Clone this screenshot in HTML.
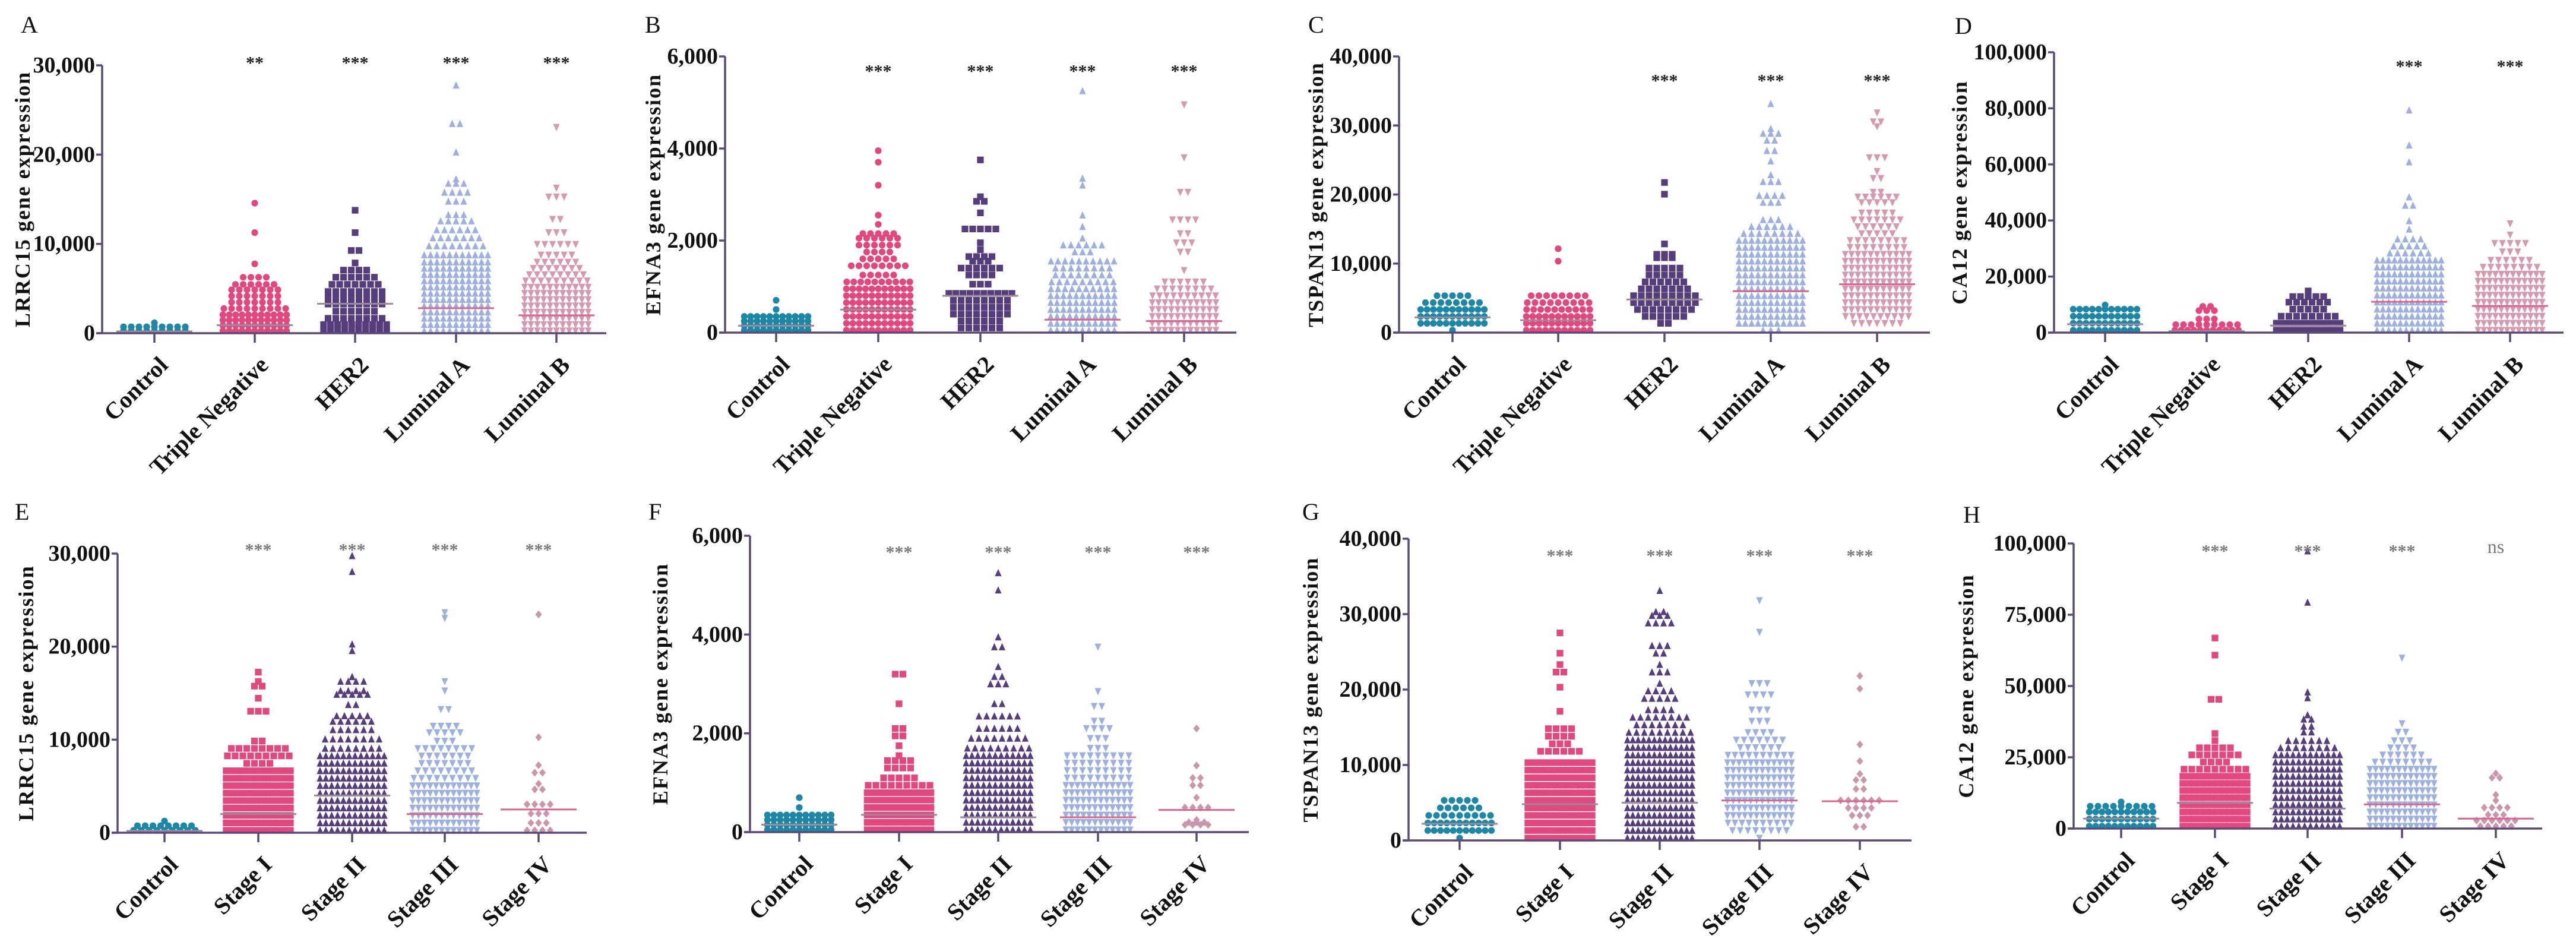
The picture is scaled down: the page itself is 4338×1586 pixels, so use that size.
<!DOCTYPE html>
<html><head><meta charset="utf-8"><style>
html,body{margin:0;padding:0;background:#fff;}
svg{display:block;}
text{font-family:"Liberation Serif",serif;}
</style></head><body>
<svg id="fig" xmlns="http://www.w3.org/2000/svg" width="4338" height="1586" viewBox="0 0 4338 1586"></svg>
<script>
// ---------- DATA ----------
const subtypeCats = ["Control","Triple Negative","HER2","Luminal A","Luminal B"];
const stageCats = ["Control","Stage I","Stage II","Stage III","Stage IV"];

const A_ticks = [0,10000,20000,30000];
const A_tickLabels = ["0","10,000","20,000","30,000"];
const A_stars = ["","**","***","***","***"];
const A_medians = [200,900,3300,2800,2000];
const A_g0 = [[0,9],[450,9],[900,1]];
const A_g1 = [[0,11],[600,11],[1200,11],[1800,11],[2500,9],[3200,7],[3900,7],[4600,7],[5200,6],[6000,4],[7500,1],[11000,1],[14300,1]];
const A_g2 = [[0,10],[700,10],[1400,8],[2200,6],[3000,8],[3700,8],[4400,8],[5200,7],[6000,6],[6800,4],[7600,1],[9000,2],[11000,1],[13500,1]];
const A_g3 = [[0,11],[700,11],[1400,11],[2100,11],[2800,11],[3500,11],[4200,11],[4900,11],[5600,11],[6300,11],[7000,11],[7700,11],[8500,11],[9500,8],[10400,7],[11300,6],[12300,5],[13000,3],[14500,3],[15500,4],[16500,3],[17000,1],[20000,1],[23200,2],[27500,1]];
const A_g4 = [[0,11],[700,11],[1400,11],[2100,11],[2800,11],[3500,11],[4200,11],[4900,11],[5600,9],[6300,8],[7000,7],[7700,6],[8500,5],[9700,6],[11000,3],[12500,2],[15000,3],[16000,1],[22800,1]];

const B_ticks = [0,2000,4000,6000];
const B_tickLabels = ["0","2,000","4,000","6,000"];
const B_stars = ["","***","***","***","***"];
const B_medians = [150,500,800,280,250];
const B_g0 = [[0,11],[100,11],[200,11],[300,11],[450,1],[650,1]];
const B_g1 = [[0,11],[150,11],[300,11],[450,11],[600,11],[750,11],[900,11],[1050,10],[1200,5],[1400,8],[1550,5],[1700,4],[1850,6],[2000,6],[2100,5],[2300,1],[2500,1],[3150,1],[3650,1],[3900,1]];
const B_g2 = [[50,6],[200,6],[350,8],[500,8],[650,8],[800,10],[1000,3],[1200,4],[1350,6],[1500,3],[1600,4],[1750,1],[1900,1],[2200,5],[2550,1],[2800,2],[2900,1],[3700,1]];
const B_g3 = [[0,11],[150,11],[300,11],[450,11],[600,11],[750,11],[900,10],[1050,9],[1200,8],[1350,8],[1500,10],[1700,3],[1850,6],[2000,1],[2250,1],[2500,1],[3150,1],[3300,1],[5200,1]];
const B_g4 = [[0,11],[150,11],[300,11],[450,11],[600,11],[750,10],[900,8],[1050,6],[1300,1],[1700,2],[1900,3],[2100,2],[2400,4],[3000,2],[3750,1],[4900,1]];

const C_ticks = [0,10000,20000,30000,40000];
const C_tickLabels = ["0","10,000","20,000","30,000","40,000"];
const C_stars = ["","","***","***","***"];
const C_medians = [2200,1800,4800,6000,7000];
const C_g0 = [[0,1],[1000,11],[2000,11],[3000,11],[4000,8],[5000,5]];
const C_g1 = [[0,11],[1000,11],[2000,11],[3000,10],[4000,9],[5000,8],[10000,1],[11800,1]];
const C_g2 = [[1000,2],[2000,6],[3000,8],[4000,9],[5000,9],[6000,7],[7000,6],[8000,5],[9000,5],[10500,3],[11000,3],[12500,1],[19700,1],[21400,1]];
const C_g3 = [[0,3],[1000,11],[2000,11],[3000,11],[4000,11],[5000,11],[6000,11],[7000,11],[8000,11],[9000,11],[10000,11],[11000,11],[12000,11],[13000,11],[14000,8],[15000,6],[16000,3],[18500,3],[19500,4],[21500,3],[22500,1],[24500,1],[26000,2],[27500,2],[28500,3],[29200,1],[32800,1]];
const C_g4 = [[1000,7],[2000,10],[3000,11],[4000,11],[5000,11],[6000,11],[7000,11],[8000,11],[9000,11],[10000,11],[11000,11],[12000,8],[13000,8],[14000,5],[15000,6],[16000,7],[17000,5],[18500,5],[19300,6],[20000,2],[22000,2],[23000,1],[25000,3],[29500,1],[30200,2],[31500,1]];

const D_ticks = [0,20000,40000,60000,80000,100000];
const D_tickLabels = ["0","20,000","40,000","60,000","80,000","100,000"];
const D_stars = ["","","","***","***"];
const D_medians = [3000,500,2500,11000,9500];
const D_g0 = [[0,11],[2500,11],[5000,11],[7500,11],[9000,1]];
const D_g1 = [[0,11],[2000,9],[4000,3],[7000,3],[8500,2]];
const D_g2 = [[0,11],[2500,11],[5000,8],[7500,5],[10000,6],[12000,5],[14000,1]];
const D_g3 = [[0,12],[2500,12],[5000,12],[7500,12],[10000,12],[12500,12],[15000,12],[17500,12],[20000,12],[22500,12],[25000,12],[27500,6],[30000,5],[32500,4],[36000,1],[39000,1],[44500,2],[47500,1],[60000,1],[66000,1],[78500,1]];
const D_g4 = [[0,12],[2500,12],[5000,12],[7500,12],[10000,12],[12500,12],[15000,12],[17500,12],[20000,12],[22500,8],[25000,6],[28000,3],[31000,5],[34000,1],[38000,1]];

const E_ticks = [0,10000,20000,30000];
const E_tickLabels = ["0","10,000","20,000","30,000"];
const E_stars = ["","***","***","***","***"];
const E_medians = [200,2000,4000,2000,2500];
const E_g0 = [[0,9],[500,8],[1000,1]];
const E_g1 = [[0,12],[800,12],[1600,12],[2400,12],[3200,12],[4000,12],[4800,12],[5600,12],[6400,12],[7200,4],[8000,9],[8800,8],[9600,2],[12800,3],[14200,1],[15500,2],[16000,1],[17000,1]];
const E_g2 = [[0,12],[800,12],[1600,12],[2400,12],[3200,12],[4000,12],[4800,12],[5600,12],[6400,12],[7200,12],[8000,12],[8800,8],[9800,8],[10800,6],[11700,6],[12300,5],[13500,2],[14600,5],[15000,4],[16000,4],[16500,1],[19300,1],[20000,1],[27800,1],[29500,1]];
const E_g3 = [[0,12],[800,12],[1600,12],[2400,12],[3200,12],[4000,12],[4800,12],[5600,9],[6400,8],[7200,7],[8000,7],[8800,8],[9600,3],[10500,5],[11200,4],[13000,2],[15000,1],[16000,1],[22800,1],[23400,1]];
const E_g4 = [[0,4],[800,3],[1800,3],[2800,4],[4400,2],[5000,1],[6200,2],[7000,1],[10000,1],[23200,1]];

const F_ticks = [0,2000,4000,6000];
const F_tickLabels = ["0","2,000","4,000","6,000"];
const F_stars = ["","***","***","***","***"];
const F_medians = [150,350,300,300,450];
const F_g0 = [[0,11],[100,11],[200,11],[300,11],[450,1],[650,1]];
const F_g1 = [[0,11],[150,11],[300,11],[450,11],[600,11],[750,11],[900,9],[1050,5],[1250,4],[1400,4],[1500,1],[1700,1],[1900,2],[2050,2],[2550,1],[3150,2]];
const F_g2 = [[0,12],[150,12],[300,12],[450,12],[600,12],[750,12],[900,12],[1050,12],[1200,12],[1350,12],[1500,12],[1650,9],[1850,8],[2050,6],[2300,6],[2550,2],[2950,3],[3100,2],[3300,1],[3700,2],[3900,1],[4850,1],[5200,1]];
const F_g3 = [[0,12],[150,12],[300,12],[450,12],[600,12],[750,12],[900,12],[1050,9],[1200,9],[1350,9],[1500,9],[1650,3],[1850,3],[2050,4],[2200,2],[2500,2],[2800,1],[3700,1]];
const F_g4 = [[100,4],[150,3],[200,1],[450,4],[650,1],[900,2],[1050,2],[1300,1],[2050,1]];

const G_ticks = [0,10000,20000,30000,40000];
const G_tickLabels = ["0","10,000","20,000","30,000","40,000"];
const G_stars = ["","***","***","***","***"];
const G_medians = [2200,4800,5000,5300,5200];
const G_g0 = [[0,1],[1000,11],[2000,11],[3000,9],[4000,6],[5000,5]];
const G_g1 = [[0,12],[1000,12],[2000,12],[3000,12],[4000,12],[5000,12],[6000,12],[7000,12],[8000,12],[9000,12],[10000,12],[11500,6],[12500,3],[13500,4],[14500,4],[16800,1],[20000,1],[22000,2],[23000,1],[24500,1],[27200,1]];
const G_g2 = [[0,13],[1000,13],[2000,13],[3000,13],[4000,13],[5000,13],[6000,13],[7000,13],[8000,13],[9000,13],[10000,13],[11000,13],[12000,13],[13000,13],[14000,9],[15000,7],[16000,8],[17000,4],[18500,5],[19500,4],[20500,1],[22000,3],[23000,1],[24500,2],[25500,3],[28500,4],[29500,3],[30000,2],[32800,1]];
const G_g3 = [[0,1],[1000,8],[2000,10],[3000,12],[4000,12],[5000,12],[6000,12],[7000,12],[8000,12],[9000,12],[10000,12],[11000,10],[12000,6],[13000,7],[14000,4],[15500,3],[17000,3],[19000,4],[20500,3],[27300,1],[31500,1]];
const G_g4 = [[1500,2],[3000,3],[4000,4],[5000,6],[6500,2],[7700,2],[8500,1],[10200,1],[12400,1],[19800,1],[21500,1]];

const H_ticks = [0,25000,50000,75000,100000];
const H_tickLabels = ["0","25,000","50,000","75,000","100,000"];
const H_stars = ["","***","***","***","ns"];
const H_medians = [3500,9000,7000,8500,3500];
const H_g0 = [[0,11],[2500,11],[5000,11],[7000,9],[8500,1]];
const H_g1 = [[0,12],[2500,12],[5000,12],[7500,12],[10000,12],[12500,12],[15000,12],[17500,12],[20000,9],[22500,4],[25000,7],[27500,5],[30000,1],[32500,1],[44500,2],[60000,1],[66000,1]];
const H_g2 = [[0,12],[2500,12],[5000,12],[7500,12],[10000,12],[12500,12],[15000,12],[17500,12],[20000,12],[22500,12],[25000,12],[27500,8],[30000,6],[33000,2],[35000,2],[37500,2],[39000,1],[45000,1],[47000,1],[78500,1],[96500,1]];
const H_g3 = [[0,12],[2500,12],[5000,12],[7500,12],[10000,12],[12500,12],[15000,12],[17500,12],[20000,12],[22500,8],[25000,6],[27500,4],[30000,3],[33000,2],[36000,1],[59000,1]];
const H_g4 = [[0,5],[2000,6],[4000,3],[6500,4],[9000,1],[11000,1],[17000,2],[18500,1]];

// ---------- LAYOUT ----------
const NS = "http://www.w3.org/2000/svg";
const svg = document.getElementById("fig");
const AX = "#5b4a78";
const topColors = ["#1f87a6","#e0487e","#563d7c","#9eb0dd","#d49ab0"];
const botColors = ["#1f87a6","#e0487e","#563d7c","#9eb0dd","#c996aa"];
const topShapes = ["circle","circle","square","tri","tridown"];
const botShapes = ["circle","square","tri","tridown","diamond"];

const panels = [
 {id:"a",letter:"A",lx:35,ly:55,title:"LRRC15 gene expression",tx:38,ax:172,y0:561,yTop:110,max:30000,xEnd:1021,cx:[260,429,598,768,937],starY:98,top:true,ticks:A_ticks,tl:A_tickLabels,stars:A_stars,med:A_medians,groups:[A_g0,A_g1,A_g2,A_g3,A_g4]},
 {id:"b",letter:"B",lx:1086,ly:55,title:"EFNA3 gene expression",tx:1100,ax:1221,y0:560,yTop:95,max:6000,xEnd:2082,cx:[1307,1479,1651,1823,1994],starY:112,top:true,ticks:B_ticks,tl:B_tickLabels,stars:B_stars,med:B_medians,groups:[B_g0,B_g1,B_g2,B_g3,B_g4]},
 {id:"c",letter:"C",lx:2203,ly:55,title:"TSPAN13 gene expression",tx:2216,ax:2356,y0:560,yTop:95,max:40000,xEnd:3250,cx:[2446,2624,2803,2982,3161],starY:128,top:true,ticks:C_ticks,tl:C_tickLabels,stars:C_stars,med:C_medians,groups:[C_g0,C_g1,C_g2,C_g3,C_g4]},
 {id:"d",letter:"D",lx:3292,ly:57,title:"CA12 gene expression",tx:3300,ax:3459,y0:560,yTop:88,max:100000,xEnd:4317,cx:[3545,3716,3887,4057,4227],starY:104,top:true,ticks:D_ticks,tl:D_tickLabels,stars:D_stars,med:D_medians,groups:[D_g0,D_g1,D_g2,D_g3,D_g4]},
 {id:"e",letter:"E",lx:25,ly:875,title:"LRRC15 gene expression",tx:44,ax:198,y0:1402,yTop:932,max:30000,xEnd:988,cx:[277,435,593,749,907],starY:918,top:false,ticks:E_ticks,tl:E_tickLabels,stars:E_stars,med:E_medians,groups:[E_g0,E_g1,E_g2,E_g3,E_g4]},
 {id:"f",letter:"F",lx:1092,ly:875,title:"EFNA3 gene expression",tx:1112,ax:1263,y0:1401,yTop:902,max:6000,xEnd:2103,cx:[1346,1514,1681,1849,2015],starY:922,top:false,ticks:F_ticks,tl:F_tickLabels,stars:F_stars,med:F_medians,groups:[F_g0,F_g1,F_g2,F_g3,F_g4]},
 {id:"g",letter:"G",lx:2193,ly:875,title:"TSPAN13 gene expression",tx:2207,ax:2372,y0:1415,yTop:907,max:40000,xEnd:3219,cx:[2458,2627,2795,2963,3132],starY:928,top:false,ticks:G_ticks,tl:G_tickLabels,stars:G_stars,med:G_medians,groups:[G_g0,G_g1,G_g2,G_g3,G_g4]},
 {id:"h",letter:"H",lx:3306,ly:880,title:"CA12 gene expression",tx:3311,ax:3492,y0:1395,yTop:915,max:100000,xEnd:4281,cx:[3572,3730,3886,4045,4203],starY:920,top:false,ticks:H_ticks,tl:H_tickLabels,stars:H_stars,med:H_medians,groups:[H_g0,H_g1,H_g2,H_g3,H_g4]}
];

function el(tag, attrs, parent){
  const e = document.createElementNS(NS, tag);
  for (const k in attrs) e.setAttribute(k, attrs[k]);
  parent.appendChild(e);
  return e;
}

function marker(shape, x, y, color, parent){
  const s = 5.6;
  let m;
  if (shape === "circle") m = el("circle",{cx:x,cy:y,r:s,fill:color},parent);
  else if (shape === "square") m = el("rect",{x:x-s,y:y-s,width:2*s,height:2*s,fill:color},parent);
  else if (shape === "tri") m = el("polygon",{points:`${x},${y-s-1} ${x+s},${y+s} ${x-s},${y+s}`,fill:color},parent);
  else if (shape === "tridown") m = el("polygon",{points:`${x},${y+s+1} ${x+s},${y-s} ${x-s},${y-s}`,fill:color},parent);
  else m = el("polygon",{points:`${x},${y-s-1} ${x+s},${y} ${x},${y+s+1} ${x-s},${y}`,fill:color},parent);
  return m;
}

panels.forEach(p => {
  const g = el("g",{},svg);
  
  
  const yS = v => p.y0 - (v / p.max) * (p.y0 - p.yTop);
  const cats = p.top ? subtypeCats : stageCats;
  const colors = p.top ? topColors : botColors;
  const shapes = p.top ? topShapes : botShapes;

  const lt = el("text",{x:p.lx,y:p.ly,"font-size":40,fill:"#111"},g);
  lt.textContent = p.letter;
  
  

  const cy = (p.y0 + p.yTop) / 2;
  const yt = el("text",{x:p.tx,y:cy,"font-size":36,"font-weight":"bold","text-anchor":"middle","dominant-baseline":"central","letter-spacing":"2",transform:`rotate(-90 ${p.tx} ${cy})`,fill:"#111"},g);
  yt.textContent = p.title;
  
  

  p.groups.forEach((grp, gi) => {
    const gg = el("g",{},g);
    
    
    grp.forEach(row => {
      const v = row[0], c = row[1];
      const sp = Math.min(13, 118 / Math.max(c, 1));
      for (let k = 0; k < c; k++) {
        const x = p.cx[gi] + (k - (c - 1) / 2) * sp;
        const m = marker(shapes[gi], x, yS(v) - 4, colors[gi], gg);
        
        
      }
    });
    const my = yS(p.med[gi]);
    const ml = el("line",{x1:p.cx[gi]-64,x2:p.cx[gi]+64,y1:my,y2:my,stroke:gi===4||gi===3?"#d9668f":"#9a8a9a","stroke-width":3},gg);
    
    
  });

  const ya = el("line",{x1:p.ax,x2:p.ax,y1:p.yTop,y2:p.y0,stroke:AX,"stroke-width":3.5},g);
  
  
  const xa = el("line",{x1:p.ax-10,x2:p.xEnd,y1:p.y0,y2:p.y0,stroke:AX,"stroke-width":3.5},g);
  
  

  p.ticks.forEach((t, i) => {
    const y = yS(t);
    const tk = el("line",{x1:p.ax-10,x2:p.ax,y1:y,y2:y,stroke:AX,"stroke-width":3.5},g);
    
    
    const tl = el("text",{x:p.ax-12,y:y,"font-size":38,"font-weight":"bold","text-anchor":"end","dominant-baseline":"central",fill:"#111"},g);
    tl.textContent = p.tl[i];
    
    
  });

  cats.forEach((c, i) => {
    const x = p.cx[i];
    const tk = el("line",{x1:x,x2:x,y1:p.y0,y2:p.y0+16,stroke:AX,"stroke-width":3.5},g);
    
    
    const ax = x + 25, ay = p.y0 + 56;
    const cl = el("text",{x:ax,y:ay,"font-size":40,"font-weight":"bold","text-anchor":"end",transform:`rotate(-45 ${ax} ${ay})`,fill:"#111"},g);
    cl.textContent = c;
    
    
    if (p.stars[i]) {
      const ns = p.stars[i] === "ns";
      const st = el("text",{x:x,y:p.starY + (ns ? 0 : 8),"font-size":ns?32:30,"font-weight":ns?"normal":"bold","text-anchor":"middle","dominant-baseline":"central",fill:p.top?"#222":"#7a7a7a"},g);
      st.textContent = p.stars[i];
      
      
    }
  });
});
</script>
</body></html>
